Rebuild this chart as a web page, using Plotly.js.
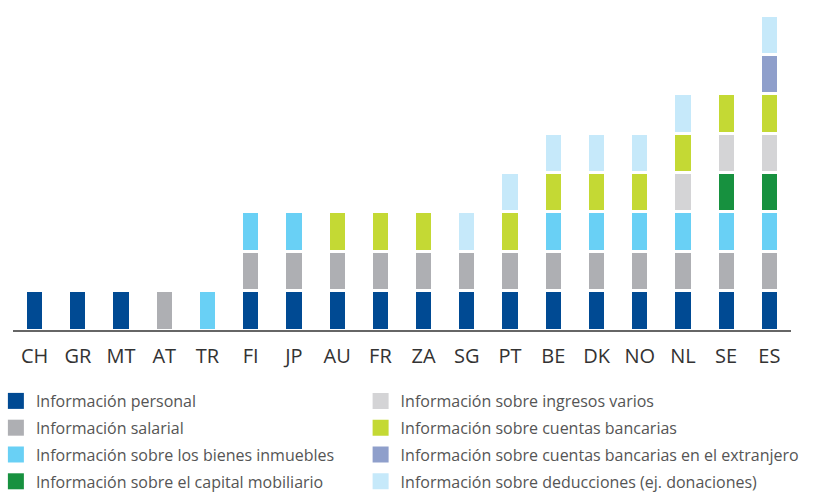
<!DOCTYPE html>
<html>
<head>
<meta charset="utf-8">
<script src="https://cdn.plot.ly/plotly-3.0.1.min.js"></script>
<style>
  html, body { margin: 0; padding: 0; background: #fff; }
  #chart { width: 814px; height: 492px; }
</style>
</head>
<body>
<div id="chart"></div>
<script>
// countries along the x axis
var paises = ['CH','GR','MT','AT','TR','FI','JP','AU','FR','ZA','SG','PT','BE','DK','NO','NL','SE','ES'];

// one block per type of information (null = not pre-filled)
var personal    = [1,1,1,null,null,1,1,1,1,1,1,1,1,1,1,1,1,1];
var salarial    = [null,null,null,1,null,1,1,1,1,1,1,1,1,1,1,1,1,1];
var inmuebles   = [null,null,null,null,1,1,1,null,null,null,null,null,1,1,1,1,1,1];
var mobiliario  = [null,null,null,null,null,null,null,null,null,null,null,null,null,null,null,null,1,1];
var ingresos    = [null,null,null,null,null,null,null,null,null,null,null,null,null,null,null,1,1,1];
var cuentas     = [null,null,null,null,null,null,null,1,1,1,null,1,1,1,1,1,1,1];
var extranjero  = [null,null,null,null,null,null,null,null,null,null,null,null,null,null,null,null,null,1];
var deducciones = [null,null,null,null,null,null,null,null,null,null,1,1,1,1,1,1,null,1];

var series = [
  {name: 'Información personal', y: personal, color: '#004a93', legend: 'legend'},
  {name: 'Información salarial', y: salarial, color: '#aeafb3', legend: 'legend'},
  {name: 'Información sobre los bienes inmuebles', y: inmuebles, color: '#69d0f5', legend: 'legend'},
  {name: 'Información sobre el capital mobiliario', y: mobiliario, color: '#17913f', legend: 'legend'},
  {name: 'Información sobre ingresos varios', y: ingresos, color: '#d4d4d6', legend: 'legend2'},
  {name: 'Información sobre cuentas bancarias', y: cuentas, color: '#c4d934', legend: 'legend2'},
  {name: 'Información sobre cuentas bancarias en el extranjero', y: extranjero, color: '#8f9fcb', legend: 'legend2'},
  {name: 'Información sobre deducciones (ej. donaciones)', y: deducciones, color: '#c6e9fa', legend: 'legend2'}
];

var data = [];
series.forEach(function(s, i) {
  // the stacked blocks, white outline gives the gap between them
  data.push({
    type: 'bar',
    x: paises,
    y: s.y,
    name: s.name,
    legendgroup: 'g' + i,
    showlegend: false,
    marker: {color: s.color, line: {color: '#ffffff', width: 3}},
    hoverinfo: 'x+name'
  });
});
series.forEach(function(s, i) {
  // legend entry only (bigger square than the bar legend symbol)
  data.push({
    type: 'scatter',
    mode: 'markers',
    x: [null],
    y: [null],
    name: s.name,
    legend: s.legend,
    legendgroup: 'g' + i,
    marker: {symbol: 'square', size: 16, color: s.color, line: {width: 0}},
    hoverinfo: 'skip'
  });
});

var legendFont = {family: 'Open Sans, sans-serif', size: 16, color: '#555555'};

var layout = {
  width: 814,
  height: 492,
  margin: {l: 13, r: 23, t: 15, b: 162, autoexpand: false},
  barmode: 'stack',
  bargap: 0.58,
  paper_bgcolor: '#ffffff',
  plot_bgcolor: '#ffffff',
  showlegend: true,
  xaxis: {
    type: 'category',
    showgrid: false,
    showline: true,
    linecolor: '#666666',
    linewidth: 2,
    ticks: '',
    ticklabelstandoff: 7,
    tickfont: {family: 'Open Sans, sans-serif', size: 20, color: '#333333'},
    fixedrange: true
  },
  yaxis: {
    range: [0, 8],
    showgrid: false,
    zeroline: false,
    showticklabels: false,
    ticks: '',
    fixedrange: true
  },
  legend: {
    x: -0.022, xanchor: 'left', y: -0.1714, yanchor: 'top',
    orientation: 'v', traceorder: 'grouped', tracegroupgap: 3,
    font: legendFont, bgcolor: 'rgba(0,0,0,0)'
  },
  legend2: {
    x: 0.4468, xanchor: 'left', y: -0.1714, yanchor: 'top',
    orientation: 'v', traceorder: 'grouped', tracegroupgap: 3,
    font: legendFont, bgcolor: 'rgba(0,0,0,0)'
  }
};

Plotly.newPlot('chart', data, layout, {displayModeBar: false, responsive: false});
</script>
</body>
</html>
